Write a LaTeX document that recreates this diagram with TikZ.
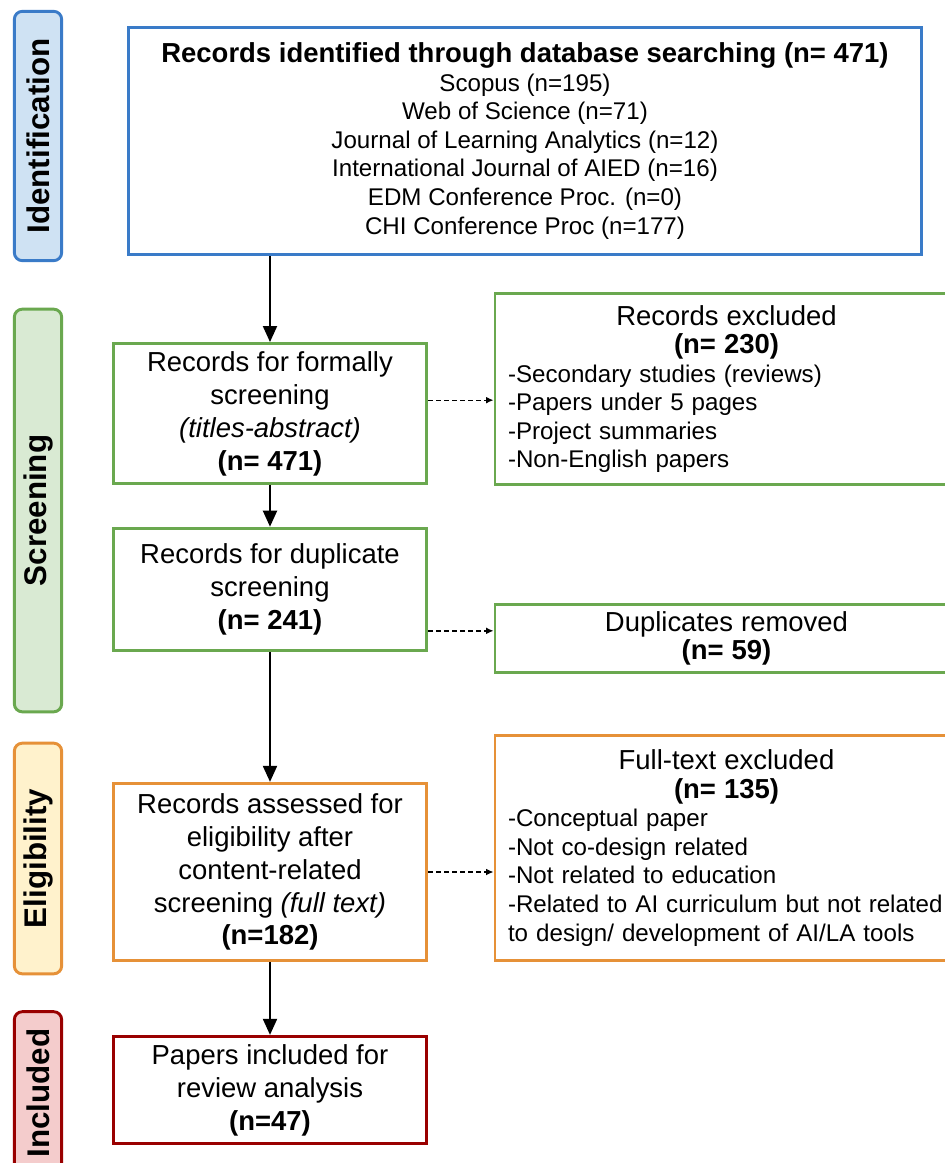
\documentclass[tikz,border=0pt]{standalone}
\usepackage{fontspec}
\setmainfont{Liberation Sans}
\usetikzlibrary{arrows.meta}
\definecolor{cblue}{HTML}{3A7BC8}
\definecolor{cbluef}{HTML}{CFE2F3}
\definecolor{cgreen}{HTML}{6AA84F}
\definecolor{cgreenf}{HTML}{D9EAD3}
\definecolor{corange}{HTML}{E69138}
\definecolor{corangef}{HTML}{FFF2CC}
\definecolor{cred}{HTML}{990000}
\definecolor{credf}{HTML}{F4CCCC}
\newcommand{\bigf}{\fontsize{20.6}{24.7}\selectfont}
\newcommand{\smallf}{\fontsize{18.1}{21.4}\selectfont}
\newcommand{\ctr}[1]{\makebox[327.75pt][c]{#1}}
\begin{document}
\begin{tikzpicture}[x=0.75pt,y=-0.75pt,
  side/.style={draw, line width=2.2pt, rounded corners=6pt, rotate=90,
    minimum height=35.5pt, inner sep=0pt,
    font=\fontsize{23.5}{28}\selectfont\bfseries},
  box/.style={draw, line width=2.2pt, fill=white, inner sep=0pt, align=center, font=\bigf},
  rbox/.style={draw, line width=2.2pt, fill=white, inner xsep=9.75pt, inner ysep=0pt,
    text width=327.75pt, align=left, font=\smallf},
  arr/.style={line width=1.5pt, -{Triangle[length=12pt,width=10.5pt]}},
  darr/.style={line width=1pt, dash pattern=on 3.5pt off 2.5pt, -{Latex[length=5.5pt,width=5pt]}}
]
\useasboundingbox (0,0) rectangle (945,1163);
\clip (0,0) rectangle (945,1163);
\fill[white] (0,0) rectangle (945,1163);

% side labels
\node[side, draw=cblue, fill=cbluef, minimum width=187pt] (s1) at (38,136) {Identification};
\node[side, draw=cgreen, fill=cgreenf, minimum width=302pt] (s2) at (38,510.5) {Screening};
\node[side, draw=corange, fill=corangef, minimum width=173pt] (s3) at (38,858.5) {Eligibility};
\node[side, draw=cred, fill=credf, minimum width=122pt] (s4) at (38,1093) {Included};

% main column
\node[box, draw=cblue, minimum width=595pt, minimum height=170.5pt, font=\smallf] (id) at (525,141)
 {{\bigf\bfseries Records identified through database searching (n= 471)}\\
  Scopus (n=195)\\Web of Science (n=71)\\Journal of Learning Analytics (n=12)\\
  International Journal of AIED (n=16)\\EDM Conference Proc. (n=0)\\CHI Conference Proc (n=177)};

\node[box, draw=cgreen, minimum width=235pt, minimum height=105pt] (A) at (270,413.5)
 {Records for formally\\screening\\\textit{(titles-abstract)}\\\textbf{(n= 471)}};
\node[box, draw=cgreen, minimum width=235pt, minimum height=92pt] (B) at (270,589.5)
 {Records for duplicate\\screening\\\textbf{(n= 241)}};
\node[box, draw=corange, minimum width=235pt, minimum height=133pt] (C) at (270,872)
 {Records assessed for\\eligibility after\\content-related\\screening \textit{(full text)}\\\textbf{(n=182)}};
\node[box, draw=cred, minimum width=235pt, minimum height=80.5pt] (D) at (270,1090)
 {Papers included for\\review analysis\\\textbf{(n=47)}};

% right column
\node[rbox, draw=cgreen, minimum height=143.5pt] (E1) at (726.5,389)
 {\ctr{\bigf Records excluded}\\\ctr{\bigf\bfseries (n= 230)}\\-Secondary studies (reviews)\\-Papers under 5 pages\\-Project summaries\\-Non-English papers};
\node[rbox, draw=cgreen, minimum height=51.5pt] (E2) at (726.5,638.5)
 {\ctr{\bigf Duplicates removed}\\\ctr{\bigf\bfseries (n= 59)}};
\node[rbox, draw=corange, minimum height=169pt] (E3) at (726.5,848)
 {\ctr{\bigf Full-text excluded}\\\ctr{\bigf\bfseries (n= 135)}\\-Conceptual paper\\-Not co-design related\\-Not related to education\\-Related to AI curriculum but not related\\to design/ development of AI/LA tools};

% arrows
\draw[arr] (id.south -| A.north) -- (A.north);
\draw[arr] (A.south) -- (B.north);
\draw[arr] (B.south) -- (C.north);
\draw[arr] (C.south) -- (D.north);

\coordinate (d1) at ([yshift=10pt]A.east);
\coordinate (d2) at ([yshift=-31pt]B.east);
\draw[darr] (d1) -- (d1 -| E1.west);
\draw[darr] (d2) -- (d2 -| E2.west);
\draw[darr] (C.east) -- (C.east -| E3.west);
\end{tikzpicture}
\end{document}
